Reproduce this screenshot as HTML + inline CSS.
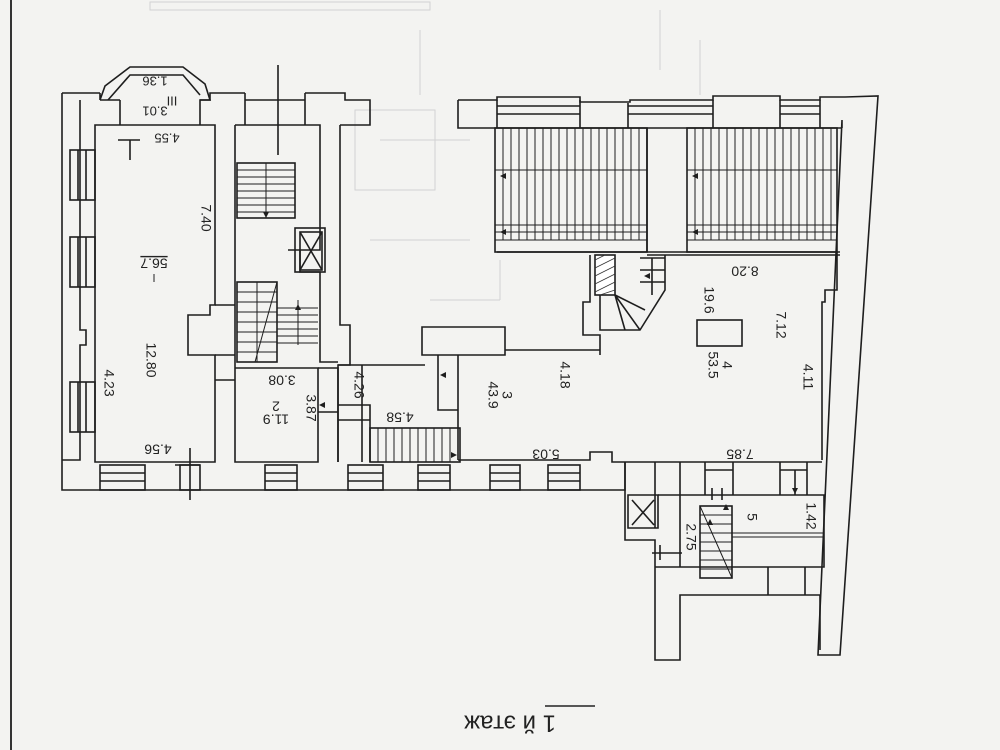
<!DOCTYPE html>
<html><head><meta charset="utf-8"><style>
html,body{margin:0;padding:0;background:#f3f3f1;}
svg{display:block}
text{font-family:"Liberation Sans",sans-serif;fill:#222}
</style></head><body>
<svg width="1000" height="750" viewBox="0 0 1000 750" xmlns="http://www.w3.org/2000/svg" font-size="14">
<rect width="1000" height="750" fill="#f3f3f1"/>
<g stroke="#d2d2d2" stroke-width="1" fill="none">
<rect x="150" y="2" width="280" height="8"/>
<path d="M420 30 V95 M660 10 V70 M700 40 V95 M380 140 H470 M370 240 H470 M500 260 V300 M430 300 H500"/>
<rect x="355" y="110" width="80" height="80"/>
</g>
<line x1="11" y1="0" x2="11" y2="750" stroke="#333" stroke-width="2"/>

<g stroke="#1e1e1e" stroke-width="1.6" fill="none">
<path d="M62 93 H100 M62 93 V490 H625 V462"/>
<path d="M80 100 V330 H86 V345 H80 V460 H62"/>
<path d="M100 93 V100 M100 100 L105 86 L130 67 H183 L205 84 L210 100 L200 100 V125"/>
<path d="M108 100 L130 75 H183 L200 95"/>
<path d="M120 100 V125 M200 100 H210 V93 H245 M120 100 H100"/>
<path d="M245 93 V125 M305 93 V125 M245 100 H305 M305 93 H345 V100 H370 V125 H340"/>
<path d="M95 125 H215 V305 H210 V315 H188 V355 H215 V462 H95 Z"/>
<rect x="70" y="150" width="25" height="50"/><path d="M78 150 V200 M86 150 V200"/>
<rect x="70" y="237" width="25" height="50"/><path d="M78 237 V287 M86 237 V287"/>
<rect x="70" y="382" width="25" height="50"/><path d="M78 382 V432 M86 382 V432"/>
<path d="M235 125 H320 V250 H300 V272 H320 V362 H338 M235 125 V462 H318 V368 H235 M340 125 V325 H350 V365 H338 V462"/>
<path d="M215 305 H235 M215 380 H235 M215 355 H235"/>
<rect x="237" y="163" width="58" height="55"/>
<g stroke-width="1"><path d="M237 170 H295 M237 177 H295 M237 184 H295 M237 191 H295 M237 198 H295 M237 205 H295 M237 212 H295 M266 163 V218"/></g>
<rect x="295" y="228" width="30" height="44"/><rect x="300" y="232" width="22" height="38"/>
<path d="M300 232 L322 270 M322 232 L300 270 M288 250 H300"/>
<rect x="237" y="282" width="40" height="80"/>
<g stroke-width="1"><path d="M237 292 H277 M237 302 H277 M237 312 H277 M237 322 H277 M237 332 H277 M237 342 H277 M237 352 H277 M257 282 V362 M277 282 L255 362 M277 308 H318 M277 315 H318 M277 322 H318 M277 329 H318 M277 336 H318 M277 343 H318 M298 300 V345"/></g>
<path d="M318 368 H338 V412 H318 M338 412 V462"/>
<path d="M350 365 H425 M338 365 H362 V462"/>
<path d="M338 405 H370 V462 M338 420 H370"/>
<rect x="370" y="428" width="90" height="34"/>
<g stroke-width="1"><path d="M378 428 V462 M386 428 V462 M394 428 V462 M402 428 V462 M410 428 V462 M418 428 V462 M426 428 V462 M434 428 V462 M442 428 V462 M450 428 V462"/></g>
<path d="M422 327 H505 V355 H422 Z"/>
<path d="M438 355 V410 H458 V355 M458 355 V460 M505 350 H600"/>
<g>
<rect x="100" y="465" width="45" height="25"/><path d="M100 473 H145 M100 481 H145"/>
<rect x="180" y="465" width="20" height="25"/>
<rect x="265" y="465" width="32" height="25"/><path d="M265 473 H297 M265 481 H297"/>
<rect x="348" y="465" width="35" height="25"/><path d="M348 473 H383 M348 481 H383"/>
<rect x="418" y="465" width="32" height="25"/><path d="M418 473 H450 M418 481 H450"/>
<rect x="490" y="465" width="30" height="25"/><path d="M490 473 H520 M490 481 H520"/>
<rect x="548" y="465" width="32" height="25"/><path d="M548 473 H580 M548 481 H580"/>
</g>
<path d="M190 448 V500 M175 465 H200"/>
<path d="M278 65 V155"/>
<path d="M130 140 V160 M118 140 H140"/>
<path d="M458 100 H497 V97 H580 V102 H630 V100 H713 V96 H780 V100 H820 V97 H845 L878 96 L840 655 H818 L842 120 V128"/>
<path d="M458 100 V128 H842 M497 100 V128 M580 100 V128 M628 103 V128 M713 100 V128 M780 100 V128 M820 100 V128"/>
<path d="M497 106 H580 M497 114 H580 M628 106 H713 M628 114 H713 M780 106 H820 M780 114 H820"/>
<rect x="495" y="128" width="152" height="124"/>
<rect x="687" y="128" width="150" height="124"/>
<g stroke-width="1">
<path d="M495 170 H647 M495 225 H647 M495 232 H647 M495 240 H647 M687 170 H837 M687 225 H837 M687 232 H837 M687 240 H837"/>
<path d="M503 128V240M511 128V240M519 128V240M527 128V240M535 128V240M543 128V240M551 128V240M559 128V240M567 128V240M575 128V240M583 128V240M591 128V240M599 128V240M607 128V240M615 128V240M623 128V240M631 128V240M639 128V240"/>
<path d="M695 128V240M703 128V240M711 128V240M719 128V240M727 128V240M735 128V240M743 128V240M751 128V240M759 128V240M767 128V240M775 128V240M783 128V240M791 128V240M799 128V240M807 128V240M815 128V240M823 128V240M831 128V240"/>
</g>
<path d="M647 128 V252 H687 M647 255 H840 M497 252 H840"/>
<path d="M590 255 V302 H583 V335 H600 V355 M600 255 V330 H640 L665 290 V255"/>
<rect x="595" y="255" width="20" height="40" fill="#fff"/>
<g stroke="#333" stroke-width="0.8"><path d="M595 260 L605 255 M595 268 L615 258 M595 276 L615 266 M595 284 L615 274 M595 292 L615 282 M600 295 L615 290"/></g>
<path d="M615 295 L640 330 M615 295 L625 330 M615 295 L645 310 M640 258 H665 M640 270 H665 M640 282 H665 M652 258 V295"/>
<rect x="697" y="320" width="45" height="26"/>
<path d="M837 252 V290 H825 V302 H822 V460"/>
<path d="M458 460 H590 V452 H612 V462 H625 M612 462 H822 M625 462 V540 H655 V567 M655 462 V528"/>
<path d="M628 495 H658 V528 H628 Z M632 500 L654 525 M654 500 L632 525"/>
<path d="M658 495 H680 V567 H655 M680 495 H824 V567 H680 M655 567 V660 H680 V595 H820 V650"/>
<path d="M680 462 V495 M705 462 V495 M733 462 V495 M780 462 V495 M807 462 V495 M705 470 H733 M780 470 H807"/>
<path d="M768 567 V595 M805 567 V595"/>
<rect x="700" y="506" width="32" height="72"/>
<g stroke-width="1"><path d="M700 515H732M700 524H732M700 533H732M700 542H732M700 551H732M700 560H732M700 569H732M700 506 L732 578 M732 533 H824 M732 537 H824"/></g>
<path d="M652 553 H682 M660 545 V560 M712 488 V500 M722 488 V500"/>
<path d="M795 470 V495"/>
</g>
<g fill="#1e1e1e">
<path d="M263 212 l3 6 l3 -6z"/><path d="M295 310 l3 -6 l3 6z"/><path d="M319 405 l6 -3 v6z"/>
<path d="M440 375 l6 -3 v6z"/><path d="M451 452 l6 3 l-6 3z"/>
<path d="M500 176 l6 -3 v6z"/><path d="M500 232 l6 -3 v6z"/><path d="M692 176 l6 -3 v6z"/><path d="M692 232 l6 -3 v6z"/>
<path d="M644 276 l6 -3 v6z"/><path d="M792 488 l3 6 l3 -6z"/>
<path d="M723 510 l3 -6 l3 6z"/><path d="M707 525 l3 -6 l3 6z"/>
</g>

<g text-anchor="middle" dominant-baseline="middle">
<text transform="rotate(180 155 80)" x="155" y="80" font-size="13">1.36</text>
<text transform="rotate(180 155 110)" x="155" y="110" font-size="13">3.01</text>
<text transform="rotate(180 172 100)" x="172" y="100" font-size="13">III</text>
<text transform="rotate(180 167 137)" x="167" y="137" font-size="13">4.55</text>
<text transform="rotate(90 205 218)" x="205" y="218">7.40</text>
<text transform="rotate(180 154 262)" x="154" y="262" text-decoration="underline">56.7</text>
<line x1="154" y1="274" x2="154" y2="282" stroke="#222"/>
<text transform="rotate(90 150 360)" x="150" y="360">12.80</text>
<text transform="rotate(90 108 383)" x="108" y="383">4.23</text>
<text transform="rotate(180 158 448)" x="158" y="448">4.56</text>
<text transform="rotate(180 282 379)" x="282" y="379">3.08</text>
<text transform="rotate(180 276 405)" x="276" y="405">2</text>
<text transform="rotate(180 276 418)" x="276" y="418">11.9</text>
<text transform="rotate(90 310 408)" x="310" y="408">3.87</text>
<text transform="rotate(90 358 385)" x="358" y="385">4.26</text>
<text transform="rotate(180 400 416)" x="400" y="416">4.58</text>
<text transform="rotate(90 506 395)" x="506" y="395">3</text>
<text transform="rotate(90 492 395)" x="492" y="395">43.9</text>
<text transform="rotate(90 564 375)" x="564" y="375">4.18</text>
<text transform="rotate(180 546 453)" x="546" y="453">5.03</text>
<text transform="rotate(180 745 270)" x="745" y="270">8.20</text>
<text transform="rotate(90 708 300)" x="708" y="300">19.6</text>
<text transform="rotate(90 780 325)" x="780" y="325">7.12</text>
<text transform="rotate(90 726 365)" x="726" y="365">4</text>
<text transform="rotate(90 712 365)" x="712" y="365">53.5</text>
<text transform="rotate(90 807 377)" x="807" y="377">4.11</text>
<text transform="rotate(180 740 453)" x="740" y="453">7.85</text>
<text transform="rotate(90 751 517)" x="751" y="517">5</text>
<text transform="rotate(90 810 516)" x="810" y="516">1.42</text>
<text transform="rotate(90 690 537)" x="690" y="537">2.75</text>
<text transform="rotate(180 510 722)" x="510" y="722" font-size="24">1 й этаж</text>
</g>
<line x1="545" y1="706" x2="595" y2="706" stroke="#222" stroke-width="1.5"/>
</svg>
</body></html>
